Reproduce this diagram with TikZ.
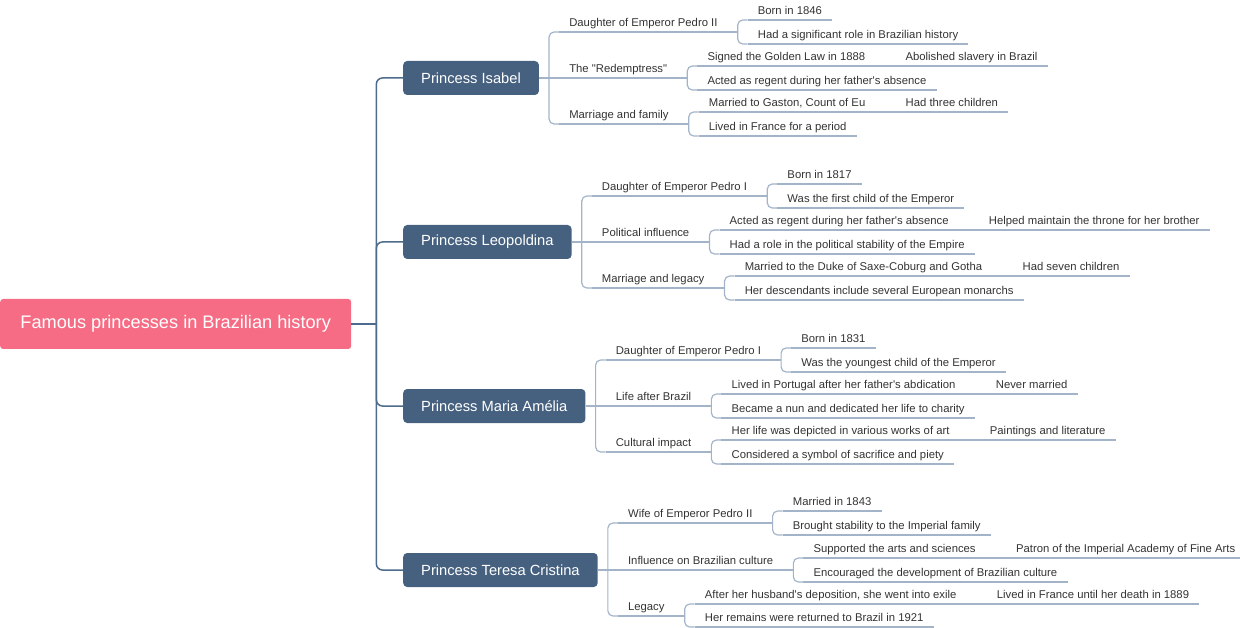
\documentclass[tikz,border=0pt]{standalone}
\usepackage{fontspec}
\setmainfont{Liberation Sans}
\usetikzlibrary{calc}
\definecolor{rootpink}{HTML}{F56C84}
\definecolor{boxblue}{HTML}{46617F}
\definecolor{mainline}{HTML}{4D6B8C}
\definecolor{subline}{HTML}{A3B4C9}
\definecolor{txt}{HTML}{333333}
\newcommand\ap{\textquotesingle}
\newcommand\dq{\textquotedbl}
\tikzset{
 rootbox/.style={fill=rootpink, rounded corners=3pt, text=white, font=\fontsize{18.2}{22}\selectfont, minimum width=351pt, minimum height=50pt, inner sep=0pt, anchor=west},
 princess/.style={fill=boxblue, rounded corners=4pt, text=white, font=\fontsize{14.7}{17}\selectfont, minimum height=34pt, inner xsep=18pt, inner ysep=0pt, anchor=west},
 leaf/.style={text=txt, font=\fontsize{11.3}{13}\selectfont, inner xsep=10pt, inner ysep=3pt, text height=8pt, text depth=2pt, anchor=south west},
 mainlink/.style={draw=mainline, line width=1.5pt},
 sublink/.style={draw=subline, line width=1.2pt},
}
% level 2 from a princess box
\newcommand\branch[4]{%
  \node[leaf] (#2) at ($(#1.east)+(20,#3)$) {#4};
  \draw[sublink] (#2.south west) -- (#2.south east);
  \draw[sublink] (#1.east) -- ($(#1.east)+(10,0)$);
  \draw[sublink, rounded corners=5pt] ($(#1.east)+(10,0)$) |- (#2.south west);}
\newcommand\branchmid[3]{%
  \node[leaf] (#2) at ($(#1.east)+(20,0)$) {#3};
  \draw[sublink] (#2.south west) -- (#2.south east);
  \draw[sublink] (#1.east) -- (#2.south west);}
% deeper levels
\newcommand\kid[4]{%
  \node[leaf] (#2) at ($(#1.south east)+(20,#3)$) {#4};
  \draw[sublink] (#2.south west) -- (#2.south east);
  \draw[sublink] (#1.south east) -- ($(#1.south east)+(10,0)$);
  \draw[sublink, rounded corners=5pt] ($(#1.south east)+(10,0)$) |- (#2.south west);}
\newcommand\onlykid[3]{%
  \node[leaf] (#2) at ($(#1.south east)+(20,0)$) {#3};
  \draw[sublink] (#2.south west) -- (#2.south east);
  \draw[sublink] (#1.south east) -- (#2.south west);}
\begin{document}
\begin{tikzpicture}[x=1pt,y=-1pt]
\useasboundingbox (0,0) rectangle (1240,628);
\node[rootbox] (root) at (0,324) {Famous princesses in Brazilian history};
\coordinate (hub) at ($(root.east)+(25,0)$);
\node[princess] (isabel) at (403,78) {Princess Isabel};
\node[princess] (leo) at (403,242) {Princess Leopoldina};
\node[princess] (maria) at (403,406) {Princess Maria Amélia};
\node[princess] (teresa) at (403,570) {Princess Teresa Cristina};
\draw[mainlink] (root.east) -- (hub);
\foreach \p in {isabel,leo,maria,teresa}
  \draw[mainlink, rounded corners=6pt] (hub) |- (\p.west);

% Isabel
\branch{isabel}{i1}{-46}{Daughter of Emperor Pedro II}
\branchmid{isabel}{i2}{The \dq Redemptress\dq}
\branch{isabel}{i3}{46}{Marriage and family}
\kid{i1}{i1a}{-12}{Born in 1846}
\kid{i1}{i1b}{12}{Had a significant role in Brazilian history}
\kid{i2}{i2a}{-12}{Signed the Golden Law in 1888}
\onlykid{i2a}{i2a1}{Abolished slavery in Brazil}
\kid{i2}{i2b}{12}{Acted as regent during her father\ap s absence}
\kid{i3}{i3a}{-12}{Married to Gaston, Count of Eu}
\onlykid{i3a}{i3a1}{Had three children}
\kid{i3}{i3b}{12}{Lived in France for a period}

% Leopoldina
\branch{leo}{l1}{-46}{Daughter of Emperor Pedro I}
\branchmid{leo}{l2}{Political influence}
\branch{leo}{l3}{46}{Marriage and legacy}
\kid{l1}{l1a}{-12}{Born in 1817}
\kid{l1}{l1b}{12}{Was the first child of the Emperor}
\kid{l2}{l2a}{-12}{Acted as regent during her father\ap s absence}
\onlykid{l2a}{l2a1}{Helped maintain the throne for her brother}
\kid{l2}{l2b}{12}{Had a role in the political stability of the Empire}
\kid{l3}{l3a}{-12}{Married to the Duke of Saxe-Coburg and Gotha}
\onlykid{l3a}{l3a1}{Had seven children}
\kid{l3}{l3b}{12}{Her descendants include several European monarchs}

% Maria Amelia
\branch{maria}{m1}{-46}{Daughter of Emperor Pedro I}
\branchmid{maria}{m2}{Life after Brazil}
\branch{maria}{m3}{46}{Cultural impact}
\kid{m1}{m1a}{-12}{Born in 1831}
\kid{m1}{m1b}{12}{Was the youngest child of the Emperor}
\kid{m2}{m2a}{-12}{Lived in Portugal after her father\ap s abdication}
\onlykid{m2a}{m2a1}{Never married}
\kid{m2}{m2b}{12}{Became a nun and dedicated her life to charity}
\kid{m3}{m3a}{-12}{Her life was depicted in various works of art}
\onlykid{m3a}{m3a1}{Paintings and literature}
\kid{m3}{m3b}{12}{Considered a symbol of sacrifice and piety}

% Teresa Cristina
\branch{teresa}{t1}{-47}{Wife of Emperor Pedro II}
\branchmid{teresa}{t2}{Influence on Brazilian culture}
\branch{teresa}{t3}{46}{Legacy}
\kid{t1}{t1a}{-12}{Married in 1843}
\kid{t1}{t1b}{12}{Brought stability to the Imperial family}
\kid{t2}{t2a}{-12}{Supported the arts and sciences}
\onlykid{t2a}{t2a1}{Patron of the Imperial Academy of Fine Arts}
\kid{t2}{t2b}{12}{Encouraged the development of Brazilian culture}
\kid{t3}{t3a}{-12}{After her husband\ap s deposition, she went into exile}
\onlykid{t3a}{t3a1}{Lived in France until her death in 1889}
\kid{t3}{t3b}{11}{Her remains were returned to Brazil in 1921}
\end{tikzpicture}
\end{document}
